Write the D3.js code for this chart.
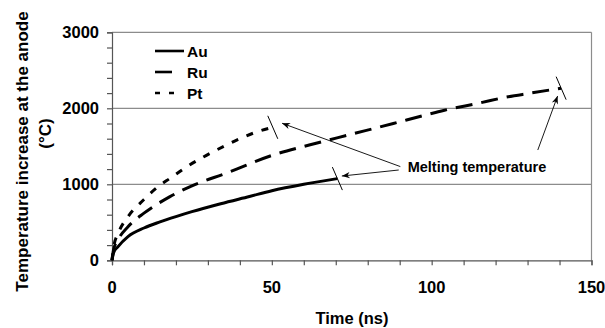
<!DOCTYPE html>
<html>
<head>
<meta charset="utf-8">
<script src="https://cdn.jsdelivr.net/npm/d3@7"></script>
<style>
  html, body { margin: 0; padding: 0; background: #fff; }
  svg { display: block; }
  text { font-family: "Liberation Sans", Arial, sans-serif; font-weight: bold; fill: #000; }
</style>
</head>
<body>
<svg id="chart" width="605" height="328"></svg>
<script>
// Anode temperature rise over time for three electrode metals (values in °C vs ns)
const auTime = [0, 0.5, 1.9, 5, 10, 15, 20, 25, 34, 43, 50, 60, 70.5];
const auTemp = [0, 100, 180, 311, 425, 505, 575, 640, 745, 840, 915, 1000, 1075];

const ruTime = [0, 0.5, 2, 5, 10, 18, 25, 36, 50, 62, 75, 88, 97, 104, 115, 122.5, 131, 140.5];
const ruTemp = [0, 140, 280, 442, 620, 835, 980, 1150, 1380, 1520, 1660, 1800, 1900, 1975, 2070, 2140, 2200, 2265];

const ptTime = [0, 0.5, 2, 5, 10, 14.4, 18.2, 23, 28.6, 35, 40, 45.3, 50.3];
const ptTemp = [0, 170, 360, 574, 800, 968, 1080, 1220, 1360, 1500, 1600, 1690, 1750];

const seriesNames = ["Au", "Ru", "Pt"];
const xTicks = [0, 50, 100, 150];
const yTicks = [0, 1000, 2000, 3000];
const annotationText = "Melting temperature";
const xTitle = "Time (ns)";
const yTitle = ["Temperature increase at the anode", "(°C)"];

// Arrow start/end points in data units (time, temperature)
const arrowFrom = [[90.2, 1233], [89.7, 1188], [133.2, 1451]];
const arrowTo = [[53.2, 1803], [71.9, 1109], [139.4, 2162]];
const annotationAt = [92.5, 1225];

const dashes = { Au: null, Ru: "17,9", Pt: "7,9" };
const series = [
  { name: "Au", t: auTime, v: auTemp },
  { name: "Ru", t: ruTime, v: ruTemp },
  { name: "Pt", t: ptTime, v: ptTemp }
];

const svg = d3.select("#chart");
const x = d3.scaleLinear().domain([0, 150]).range([112, 591.5]);
const y = d3.scaleLinear().domain([0, 3000]).range([260.3, 32.3]);

const grid = "#8c8c8c";

// Horizontal gridlines (including top border) and right border
svg.append("g").selectAll("line")
  .data(yTicks.filter(d => d > 0))
  .join("line")
  .attr("x1", x(0)).attr("x2", x(150))
  .attr("y1", d => y(d)).attr("y2", d => y(d))
  .attr("stroke", grid).attr("stroke-width", 1.2);
svg.append("line")
  .attr("x1", x(150)).attr("x2", x(150))
  .attr("y1", y(0)).attr("y2", y(3000))
  .attr("stroke", grid).attr("stroke-width", 1.2);

// Y axis with minor ticks every 200
const yAxis = d3.axisLeft(y).tickValues(d3.range(0, 3001, 200)).tickSize(5).tickFormat("");
const gy = svg.append("g").attr("transform", `translate(${x(0)},0)`).call(yAxis);
gy.select(".domain").attr("stroke", "#555").attr("stroke-width", 1.2);
gy.selectAll(".tick line").attr("stroke", "#555").attr("stroke-width", 1.2);
svg.append("g").selectAll("text")
  .data(yTicks).join("text")
  .attr("x", 99).attr("y", d => y(d))
  .attr("dy", "0.36em")
  .attr("text-anchor", "end")
  .style("font-size", "16.5px")
  .text(d => d);

// X axis with ticks every 10
const xAxis = d3.axisBottom(x).tickValues(d3.range(0, 151, 10)).tickSize(5).tickFormat("");
const gx = svg.append("g").attr("transform", `translate(0,${y(0)})`).call(xAxis);
gx.select(".domain").attr("stroke", "#555").attr("stroke-width", 1.2);
gx.selectAll(".tick line").attr("stroke", "#555").attr("stroke-width", 1.2);
svg.append("g").selectAll("text")
  .data(xTicks).join("text")
  .attr("x", d => x(d)).attr("y", 287)
  .attr("dy", "0.36em")
  .attr("text-anchor", "middle")
  .style("font-size", "16.5px")
  .text(d => d);

svg.append("text")
  .attr("x", 352).attr("y", 318).attr("dy", "0.36em")
  .attr("text-anchor", "middle")
  .style("font-size", "16.5px")
  .text(xTitle);

svg.append("text")
  .attr("transform", "translate(22,151.5) rotate(-90)")
  .attr("dy", "0.36em")
  .attr("text-anchor", "middle")
  .style("font-size", "17px")
  .text(yTitle[0]);
svg.append("text")
  .attr("transform", "translate(45,133.5) rotate(-90)")
  .attr("dy", "0.36em")
  .attr("text-anchor", "middle")
  .style("font-size", "17px")
  .text(yTitle[1]);

// Curves
const line = d3.line()
  .x(d => x(d[0])).y(d => y(d[1]))
  .curve(d3.curveMonotoneX);

series.forEach(s => {
  const pts = s.t.map((t, i) => [t, s.v[i]]);
  svg.append("path")
    .datum(pts)
    .attr("d", line)
    .attr("fill", "none")
    .attr("stroke", "#000")
    .attr("stroke-width", 3)
    .attr("stroke-dasharray", dashes[s.name]);
  // melting-point marker across the end of each curve
  const last = pts[pts.length - 1];
  const ex = x(last[0]), ey = y(last[1]);
  svg.append("line")
    .attr("x1", ex - 5).attr("y1", ey - 11.5)
    .attr("x2", ex + 5).attr("y2", ey + 11.5)
    .attr("stroke", "#000").attr("stroke-width", 1);
});

// Legend
const legendY = [51, 72, 93];
const legendEnd = { Au: 184, Ru: 172, Pt: 174 };
const legendDash = { Au: null, Ru: null, Pt: "5,9" };
seriesNames.forEach((n, i) => {
  svg.append("line")
    .attr("x1", 155).attr("x2", legendEnd[n])
    .attr("y1", legendY[i]).attr("y2", legendY[i])
    .attr("stroke", "#000").attr("stroke-width", 2.6)
    .attr("stroke-dasharray", legendDash[n]);
  svg.append("text")
    .attr("x", 187).attr("y", legendY[i]).attr("dy", "0.36em")
    .style("font-size", "15.5px")
    .text(n);
});

// Annotation with arrows
const defs = svg.append("defs");
defs.append("marker")
  .attr("id", "arrowhead")
  .attr("viewBox", "0 0 10 10")
  .attr("refX", 10).attr("refY", 5)
  .attr("markerWidth", 10).attr("markerHeight", 8)
  .attr("markerUnits", "userSpaceOnUse")
  .attr("orient", "auto")
  .append("path")
  .attr("d", "M0,1 L10,5 L0,9 L3,5 Z")
  .attr("fill", "#000");

arrowFrom.forEach((p, i) => {
  svg.append("line")
    .attr("x1", x(p[0])).attr("y1", y(p[1]))
    .attr("x2", x(arrowTo[i][0])).attr("y2", y(arrowTo[i][1]))
    .attr("stroke", "#000").attr("stroke-width", 0.9)
    .attr("marker-end", "url(#arrowhead)");
});

svg.append("text")
  .attr("x", x(annotationAt[0])).attr("y", y(annotationAt[1]))
  .attr("dy", "0.36em")
  .style("font-size", "14.5px")
  .text(annotationText);
</script>
</body>
</html>
